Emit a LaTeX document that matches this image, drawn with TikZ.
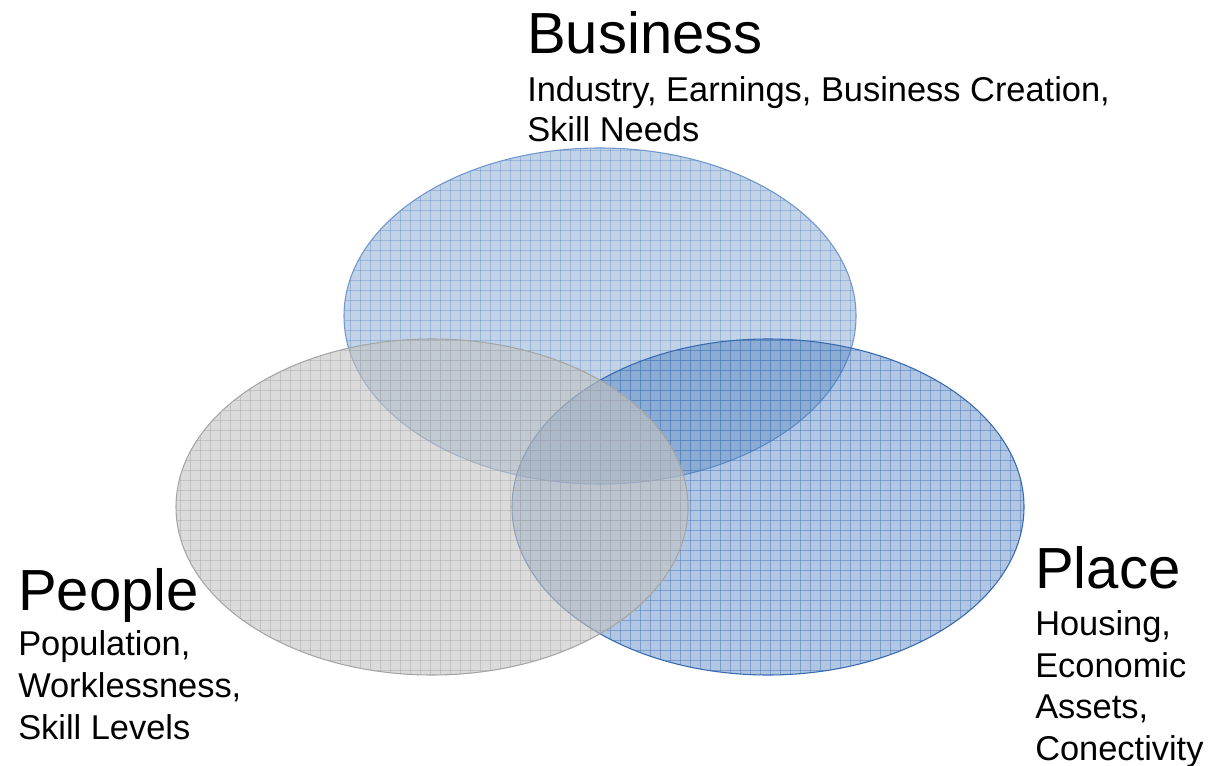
\documentclass[tikz,border=0pt]{standalone}
\usepackage{fontspec}
\setmainfont{Liberation Sans}
\definecolor{busfill}{RGB}{79,129,189}
\definecolor{busedge}{RGB}{110,150,205}
\definecolor{plafill}{RGB}{70,120,185}
\definecolor{plaedge}{RGB}{55,105,175}
\definecolor{peofill}{RGB}{195,195,195}
\definecolor{peoedge}{RGB}{165,165,165}
\tikzset{
  title/.style={anchor=base west, inner sep=0pt, font=\fontsize{43.5}{52}\selectfont},
  body/.style={anchor=base west, inner sep=0pt, font=\fontsize{25.8}{30}\selectfont},
}
\newcommand{\gridin}[3]{%
  \begin{scope}
    \clip (#1) ellipse [x radius=256, y radius=168];
    \foreach \gx in {170,180,...,1030} \draw[#2, opacity=#3, line width=0.5pt] (\gx,140) -- (\gx,680);
    \foreach \gy in {140,150,...,680} \draw[#2, opacity=#3, line width=0.5pt] (170,\gy) -- (1030,\gy);
  \end{scope}}
\begin{document}
\begin{tikzpicture}[x=0.75pt,y=-0.75pt]
\useasboundingbox (0,0) rectangle (1209,766);
% ellipse centres
\coordinate (cb) at (600,316);
\coordinate (cp) at (768,507);
\coordinate (cq) at (432,507);
% Business
\fill[busfill, opacity=0.35] (cb) ellipse [x radius=256, y radius=168];
\gridin{cb}{busfill}{0.35}
\draw[busedge, line width=0.8pt] (cb) ellipse [x radius=256, y radius=168];
% Place
\fill[plafill, opacity=0.42] (cp) ellipse [x radius=256, y radius=168];
\gridin{cp}{plafill}{0.5}
\draw[plaedge, line width=0.8pt] (cp) ellipse [x radius=256, y radius=168];
% People
\fill[peofill, opacity=0.6] (cq) ellipse [x radius=256, y radius=168];
\gridin{cq}{peoedge}{0.45}
\draw[peoedge, line width=0.8pt] (cq) ellipse [x radius=256, y radius=168];
% Business text
\node[title] (bt) at (527,54) {Business};
\node[body] (b1) at (527,102) {Industry, Earnings, Business Creation,};
\node[body] (b2) at (527,142) {Skill Needs};
% People text
\node[title] (pt) at (18,610) {People};
\node[body] (p1) at (18,655) {Population,};
\node[body] (p2) at (18,697) {Worklessness,};
\node[body] (p3) at (18,739) {Skill Levels};
% Place text
\node[title] (lt) at (1035,588) {Place};
\node[body] (l1) at (1035,635) {Housing,};
\node[body] (l2) at (1035,677) {Economic};
\node[body] (l3) at (1035,718) {Assets,};
\node[body] (l4) at (1035,760) {Conectivity};
\end{tikzpicture}
\end{document}
